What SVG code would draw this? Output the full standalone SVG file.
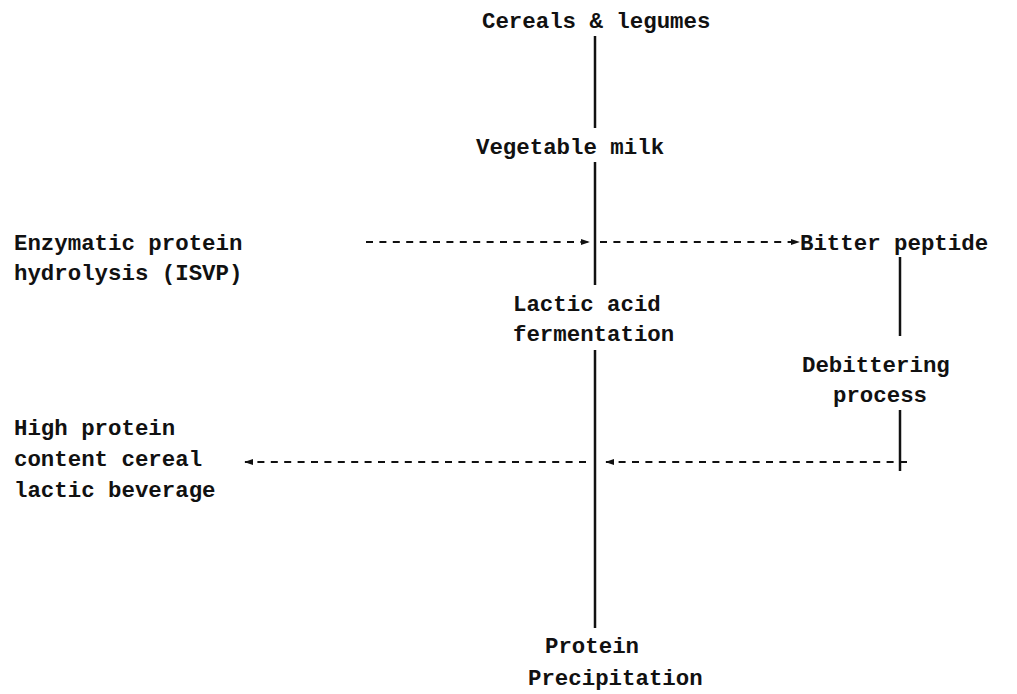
<svg xmlns="http://www.w3.org/2000/svg" width="1017" height="694" viewBox="0 0 1017 694">
<style>
text{font-family:"Liberation Mono","Courier New",monospace;font-size:22.4px;font-weight:bold;fill:#111}
.solid{stroke:#111;stroke-width:2.5;fill:none}
.dash{stroke:#111;stroke-width:2;fill:none;stroke-dasharray:7 6.4}
</style>
<defs>
<marker id="ah" viewBox="0 0 10 10" refX="9" refY="5" markerWidth="9" markerHeight="9" markerUnits="userSpaceOnUse" orient="auto">
<path d="M0,1.5 L10,5 L0,8.5 z" fill="#111"/>
</marker>
</defs>
<rect width="1017" height="694" fill="#fff"/>
<g id="connectors">
<line class="solid" x1="595" y1="36" x2="595" y2="128"/>
<line class="solid" x1="595" y1="162" x2="595" y2="285"/>
<line class="solid" x1="595" y1="350" x2="595" y2="628"/>
<line class="solid" x1="900" y1="257" x2="900" y2="336"/>
<line class="solid" x1="900" y1="410" x2="900" y2="471"/>
<line class="dash" x1="366" y1="242" x2="589" y2="242" marker-end="url(#ah)"/>
<line class="dash" x1="600" y1="242" x2="799" y2="242" marker-end="url(#ah)"/>
<line class="dash" x1="907" y1="462" x2="606" y2="462" marker-end="url(#ah)"/>
<line class="dash" x1="586" y1="462" x2="245" y2="462" marker-end="url(#ah)"/>
</g>
<g id="cereals"><text x="482" y="28">Cereals &amp; legumes</text></g>
<g id="vegmilk"><text x="476" y="154">Vegetable milk</text></g>
<g id="enzymatic"><text x="14" y="250">Enzymatic protein</text><text x="14" y="280">hydrolysis (ISVP)</text></g>
<g id="bitter"><text x="800" y="250">Bitter peptide</text></g>
<g id="lactic"><text x="513" y="311">Lactic acid</text><text x="513" y="341">fermentation</text></g>
<g id="debittering"><text x="802" y="372">Debittering</text><text x="833" y="402">process</text></g>
<g id="beverage"><text x="14" y="435">High protein</text><text x="14" y="466">content cereal</text><text x="14" y="497">lactic beverage</text></g>
<g id="precip"><text x="545" y="653">Protein</text><text x="528" y="685">Precipitation</text></g>
</svg>
